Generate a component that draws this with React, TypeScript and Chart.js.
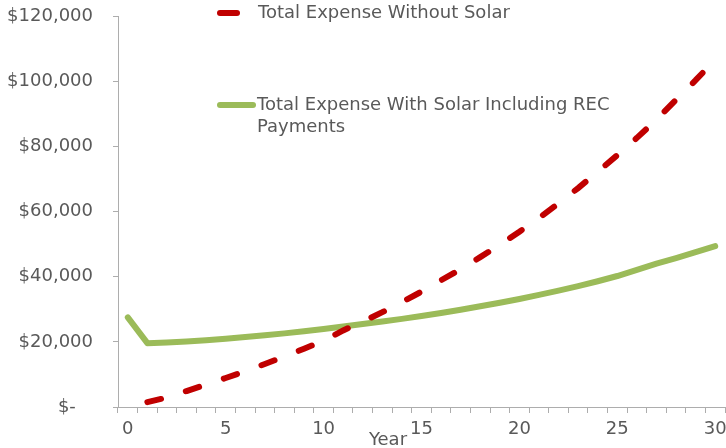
import React, { useEffect, useRef } from "react";
import { Chart, registerables } from "chart.js";

Chart.register(...registerables);

const years = [
  "0", "1", "2", "3", "4", "5", "6", "7", "8", "9", "10",
  "11", "12", "13", "14", "15", "16", "17", "18", "19", "20",
  "21", "22", "23", "24", "25", "26", "27", "28", "29", "30",
];

const withoutSolar: (number | null)[] = [
  null, 1500, 2900, 4900, 6900, 8900, 11000, 13200, 15500, 17900, 20300,
  23500, 26200, 29100, 32200, 35400, 38900, 42300, 46000, 49800, 53800,
  58000, 62500, 67200, 72200, 77300, 82600, 88200, 94300, 100300, 106600,
];

const withSolar: number[] = [
  27500, 19600, 19800, 20100, 20500, 20950, 21450, 22000, 22600, 23250, 23950,
  24700, 25450, 26250, 27050, 27900, 28850, 29850, 30900, 32000, 33150,
  34400, 35700, 37100, 38600, 40200, 42100, 44000, 45700, 47500, 49400,
];

const yTickValues = [0, 20000, 40000, 60000, 80000, 100000, 120000];

const LABEL_WITHOUT = "Total Expense Without Solar";
const LABEL_WITH_LINES = ["Total Expense With Solar Including REC", "Payments"];
const X_TITLE = "Year";

const RED = "#C00000";
const GREEN = "#9BBB59";
const TEXT = "#595959";
const AXIS = "#ADADAD";
const FONT_FAMILY = "'DejaVu Sans', Verdana, sans-serif";

const overlayPlugin = {
  id: "overlay",
  afterDraw(chart: any) {
    const ctx = chart.ctx as CanvasRenderingContext2D;
    ctx.save();
    ctx.font = `18px ${FONT_FAMILY}`;
    ctx.fillStyle = TEXT;
    ctx.textBaseline = "middle";
    ctx.textAlign = "left";
    ctx.lineCap = "round";
    ctx.lineWidth = 6;

    // legend entry 1
    ctx.strokeStyle = RED;
    ctx.beginPath();
    ctx.moveTo(220, 13);
    ctx.lineTo(237, 13);
    ctx.stroke();
    ctx.fillText(LABEL_WITHOUT, 258, 13);

    // legend entry 2
    ctx.strokeStyle = GREEN;
    ctx.beginPath();
    ctx.moveTo(220, 105);
    ctx.lineTo(253, 105);
    ctx.stroke();
    LABEL_WITH_LINES.forEach((t, i) => ctx.fillText(t, 257, 105 + i * 22));

    // x axis title
    ctx.textAlign = "center";
    ctx.fillText(X_TITLE, 388, 440);
    ctx.restore();
  },
};

export default function App() {
  const ref = useRef<HTMLCanvasElement | null>(null);

  useEffect(() => {
    if (!ref.current) return;
    const chart = new Chart(ref.current, {
      type: "line",
      data: {
        labels: years,
        datasets: [
          {
            label: LABEL_WITHOUT,
            data: withoutSolar,
            borderColor: RED,
            backgroundColor: RED,
            borderWidth: 6,
            borderDash: [14, 26],
            borderCapStyle: "round",
            pointRadius: 0,
            tension: 0,
            spanGaps: false,
          },
          {
            label: LABEL_WITH_LINES.join(" "),
            data: withSolar,
            borderColor: GREEN,
            backgroundColor: GREEN,
            borderWidth: 6,
            borderCapStyle: "round",
            borderJoinStyle: "round",
            pointRadius: 0,
            tension: 0,
          },
        ],
      },
      options: {
        animation: false,
        responsive: false,
        maintainAspectRatio: false,
        layout: { padding: { top: 16, right: 1, left: 0, bottom: 0 } },
        plugins: {
          legend: { display: false },
          tooltip: { enabled: false },
          title: { display: false },
        },
        scales: {
          x: {
            type: "category",
            offset: true,
            afterFit(scale: any) {
              scale.height = 41;
              scale.paddingLeft = 0;
              scale.paddingRight = 0;
            },
            grid: {
              offset: true,
              drawOnChartArea: false,
              drawTicks: true,
              tickLength: 6,
              color: AXIS,
            },
            border: { display: true, color: AXIS, width: 1 },
            ticks: {
              autoSkip: false,
              maxRotation: 0,
              minRotation: 0,
              padding: 6,
              color: TEXT,
              font: { family: FONT_FAMILY, size: 18 },
              callback: (_v: any, i: number) => (i % 5 === 0 ? years[i] : ""),
            },
          },
          y: {
            min: 0,
            max: 120000,
            afterFit(scale: any) {
              scale.width = 118;
              scale.paddingTop = 0;
              scale.paddingBottom = 0;
            },
            afterBuildTicks(scale: any) {
              scale.ticks = yTickValues.map((v) => ({ value: v }));
            },
            grid: {
              drawOnChartArea: false,
              drawTicks: true,
              tickLength: 5,
              color: AXIS,
            },
            border: { display: true, color: AXIS, width: 1 },
            ticks: {
              padding: 20,
              color: TEXT,
              font: { family: FONT_FAMILY, size: 18 },
              callback: (v: any) =>
                Number(v) === 0 ? "$-   " : "$" + Number(v).toLocaleString("en-US"),
            },
          },
        },
      },
      plugins: [overlayPlugin],
    });
    return () => chart.destroy();
  }, []);

  return (
    <div style={{ position: "fixed", left: 0, top: 0, width: 726, height: 448, background: "#fff" }}>
      <canvas ref={ref} width={726} height={448} style={{ display: "block" }} />
    </div>
  );
}
